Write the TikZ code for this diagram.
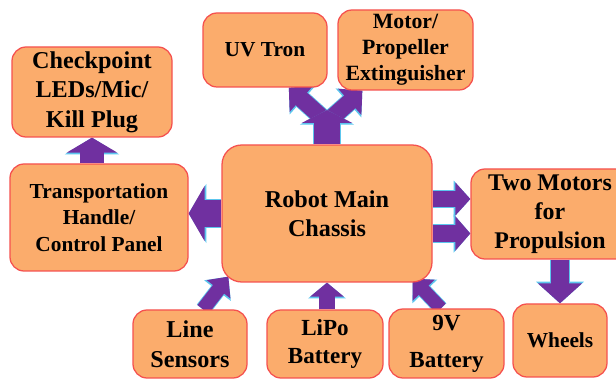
\documentclass[tikz,border=0pt]{standalone}
\usepackage{fontspec}
\setmainfont{Liberation Serif}
\usepackage{tikz}
\usetikzlibrary{arrows.meta, calc, backgrounds}
\definecolor{boxorange}{HTML}{FBAC6C}
\definecolor{boxred}{HTML}{F5514F}
\definecolor{arrowpurple}{HTML}{7030A0}
\definecolor{arrowcyan}{HTML}{5CC6EE}

\tikzset{
  block/.style={draw=boxred, fill=boxorange, line width=0.9pt,
                rounded corners=10pt, align=center, inner sep=2pt},
  bigtxt/.style={font=\bfseries\fontsize{17.2}{21}\selectfont},
  midtxt/.style={font=\bfseries\fontsize{16.4}{20.5}\selectfont},
  smalltxt/.style={font=\bfseries\fontsize{15.2}{19}\selectfont},
  fatarrow/.style n args={3}{draw=arrowpurple, line width=#1,
    -{Triangle[length=#2, width=#3]},
    preaction={draw=arrowcyan, line width=#1+1.2pt,
      -{Triangle[length=#2+1.2pt, width=#3+2.6pt]}}}
}

\begin{document}
\begin{tikzpicture}
  \useasboundingbox (0,0) rectangle (15.4,-9.475);

  %% Top row
  \node[block, bigtxt, minimum width=4.0cm, minimum height=2.25cm] (chk) at (2.3,-2.3)
    {Checkpoint\\LEDs/Mic/\\Kill Plug};
  \node[block, smalltxt, minimum width=3.1cm, minimum height=1.85cm] (uv) at (6.625,-1.25)
    {UV Tron};
  \node[block, font=\bfseries\fontsize{15.5}{18.5}\selectfont,
        minimum width=3.375cm, minimum height=2.0cm] (mot) at (10.1375,-1.25)
    {Motor/\\Propeller\\Extinguisher};

  %% Middle row
  \node[block, smalltxt, minimum width=4.45cm, minimum height=2.675cm] (trans) at (2.475,-5.4375)
    {Transportation\\Handle/\\Control Panel};
  \node[block, bigtxt, rounded corners=14pt, minimum width=5.25cm, minimum height=3.425cm]
    (chassis) at (8.175,-5.3375) {Robot Main\\Chassis};
  \node[block, font=\bfseries\fontsize{17}{20.6}\selectfont,
        minimum width=3.95cm, minimum height=2.25cm] (twom) at (13.75,-5.35)
    {Two Motors\\for\\Propulsion};

  %% Bottom row
  \node[block, bigtxt, minimum width=2.85cm, minimum height=1.7cm] (line) at (4.75,-8.6)
    {Line\\Sensors};
  \node[block, midtxt, minimum width=2.9cm, minimum height=1.7cm] (lipo) at (8.125,-8.6)
    {LiPo\\Battery};
  \node[block, midtxt, minimum width=2.875cm, minimum height=1.725cm] (nine) at (11.1625,-8.5875)
    {9V\\[6pt]Battery};
  \node[block, smalltxt, minimum width=2.35cm, minimum height=1.825cm] (wheels) at (14.0,-8.5125)
    {Wheels};

  %% fork above the chassis
  \coordinate (fork) at (8.175,-3.05);
  \coordinate (forktip) at (8.175,-2.75);

  %% Block arrows
  \begin{scope}[on background layer]
    \draw[fatarrow={16.4pt}{10.7pt}{35.6pt}] (trans.north -| chk.south) -- (chk.south);
    \draw[fatarrow={19.2pt}{11.4pt}{39pt}] (chassis.west) -- (chassis.west -| trans.east);
    \draw[fatarrow={11.4pt}{10.7pt}{23pt}] (chassis.east |- 0,-4.975) -- (twom.west |- 0,-4.975);
    \draw[fatarrow={11.8pt}{10.7pt}{24pt}] (chassis.east |- 0,-5.8375) -- (twom.west |- 0,-5.8375);
    \draw[fatarrow={13.5pt}{14.2pt}{30.6pt}] (twom.south -| wheels.north) -- (wheels.north);
    \draw[fatarrow={10pt}{11.4pt}{20.6pt}] ([xshift=0.325cm]line.north)
      -- ([shift={(0.175,0.15)}]chassis.south west);
    \draw[fatarrow={10.7pt}{10pt}{23.5pt}] (lipo.north -| chassis.south) -- (chassis.south);
    \draw[fatarrow={9.5pt}{11.4pt}{21pt}] ([xshift=-0.14cm]nine.north)
      -- ([shift={(-0.5,0.1)}]chassis.south east);
    \draw[fatarrow={12pt}{12pt}{24.2pt}] (fork) -- ([xshift=-0.97cm]uv.south east);
    \draw[fatarrow={12pt}{12pt}{24.2pt}] (fork) -- ([xshift=0.625cm]mot.south west);
    \draw[fatarrow={19pt}{9.2pt}{35.6pt}] (chassis.north) -- (forktip);
  \end{scope}

\end{tikzpicture}
\end{document}
